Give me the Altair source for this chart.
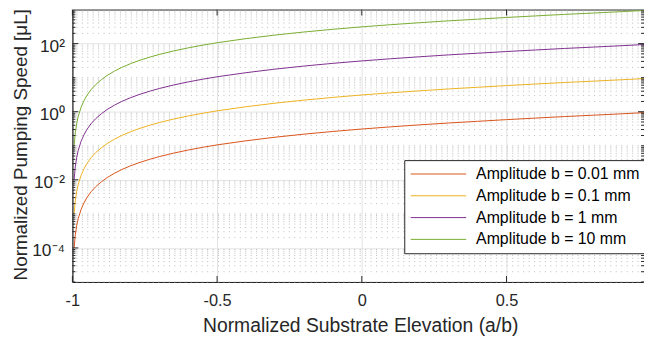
import altair as alt
import pandas as pd

# ---- data ----
x_vals = [-0.994, -0.99, -0.985, -0.98, -0.97, -0.96, -0.95, -0.935, -0.92, -0.9,
          -0.88, -0.855, -0.83, -0.8, -0.77, -0.73, -0.7, -0.65, -0.6, -0.55,
          -0.5, -0.4, -0.3, -0.2, -0.1, 0.0, 0.1, 0.2, 0.3, 0.4,
          0.5, 0.6, 0.7, 0.8, 0.9, 0.975]

amp_001 = [1.0e-4, 2.4e-4, 4.6e-4, 7.2e-4, 1.35e-3, 2.1e-3, 3.0e-3, 4.5e-3, 6.2e-3, 8.7e-3,
           0.0116, 0.0155, 0.0199, 0.0256, 0.0318, 0.0407, 0.048, 0.0609, 0.0749, 0.090,
           0.106, 0.140, 0.178, 0.219, 0.263, 0.31, 0.359, 0.411, 0.466, 0.522,
           0.585, 0.65, 0.72, 0.79, 0.87, 0.94]

amp_01 = [1.0e-3, 2.4e-3, 4.6e-3, 7.2e-3, 0.0135, 0.021, 0.030, 0.045, 0.062, 0.087,
          0.116, 0.155, 0.199, 0.256, 0.318, 0.407, 0.48, 0.609, 0.749, 0.90,
          1.06, 1.40, 1.78, 2.19, 2.63, 3.1, 3.59, 4.11, 4.66, 5.22,
          5.85, 6.5, 7.2, 7.9, 8.7, 9.4]

amp_1 = [0.010, 0.024, 0.046, 0.072, 0.135, 0.21, 0.30, 0.45, 0.62, 0.87,
         1.16, 1.55, 1.99, 2.56, 3.18, 4.07, 4.8, 6.09, 7.49, 9.0,
         10.6, 14.0, 17.8, 21.9, 26.3, 31.0, 35.9, 41.1, 46.6, 52.2,
         58.5, 65.0, 72.0, 79.0, 87.0, 94.0]

amp_10 = [0.10, 0.24, 0.46, 0.72, 1.35, 2.1, 3.0, 4.5, 6.2, 8.7,
          11.6, 15.5, 19.9, 25.6, 31.8, 40.7, 48.0, 60.9, 74.9, 90.0,
          106.0, 140.0, 178.0, 219.0, 263.0, 310.0, 359.0, 411.0, 466.0, 522.0,
          585.0, 650.0, 720.0, 790.0, 870.0, 940.0]

series_names = ["Amplitude b = 0.01 mm", "Amplitude b = 0.1 mm",
                "Amplitude b = 1 mm", "Amplitude b = 10 mm"]
series_colors = ["#D95319", "#EDB120", "#7E2F8E", "#77AC30"]

x_ticks = [-1, -0.5, 0, 0.5]
y_major = [1e-4, 1e-2, 1, 1e2]
y_minor = [m * 10.0 ** k for k in range(-5, 3) for m in range(1, 10)
           if not (m == 1 and k % 2 == 0)]

# ---- tables ----
rows = []
for name, vals in zip(series_names, [amp_001, amp_01, amp_1, amp_10]):
    for xv, yv in zip(x_vals, vals):
        rows.append({"x": xv, "y": yv, "series": name})
df = pd.DataFrame(rows)
minor_df = pd.DataFrame({"v": y_minor})
major_df = pd.DataFrame({"v": y_major})
xt_df = pd.DataFrame({"t": x_ticks})

W, H = 577, 275
FONT = "Liberation Sans"
AX = "#262626"

xscale = alt.Scale(domain=[-1, 0.975], nice=False, zero=False)
yscale = alt.Scale(type="log", domain=[1e-5, 1e3], nice=False)

x_axis = alt.Axis(values=x_ticks, labelExpr="toString(datum.value)",
                  title="Normalized Substrate Elevation (a/b)",
                  titleX=W / 2 + 2, titleY=44, titleBaseline="middle",
                  labelPadding=11, labelFlush=False, labelFontSize=16.5)
y_axis = alt.Axis(values=y_major,
                  labelExpr="'10' + (datum.value > 50 ? '²' : datum.value > 0.5 ? '⁰' : datum.value > 0.005 ? '⁻²' : '⁻⁴')",
                  title="Normalized Pumping Speed [μL]",
                  titleX=-52, titleY=136, titleBaseline="middle", titleFontSize=19,
                  labelPadding=8, labelOffset=3, labelFontSize=17.5)

minor_grid = alt.Chart(minor_df).mark_rule(
    color="#bdbdbd", strokeWidth=1, strokeDash=[1, 4.5]
).encode(y=alt.Y("v:Q", scale=yscale, axis=y_axis))

lines = alt.Chart(df).mark_line(strokeWidth=1, clip=True).encode(
    x=alt.X("x:Q", scale=xscale, axis=x_axis),
    y=alt.Y("y:Q", scale=yscale, axis=y_axis),
    color=alt.Color("series:N",
                    scale=alt.Scale(domain=series_names, range=series_colors),
                    sort=series_names,
                    legend=alt.Legend(orient="none", legendX=335, legendY=152, title=None,
                                      symbolType="M-7,0H7", symbolSize=64,
                                      symbolOffset=20.5, labelOffset=30,
                                      symbolStrokeWidth=1, labelLimit=400,
                                      labelFontSize=16, labelFont=FONT, labelColor="#000000",
                                      strokeColor=AX, fillColor="white",
                                      padding=6, rowPadding=6)),
    order=alt.Order("x:Q"),
)

tick_left_major = alt.Chart(major_df).mark_rule(color=AX, strokeWidth=1).encode(
    y=alt.Y("v:Q", scale=yscale, axis=y_axis), x=alt.value(0), x2=alt.value(6))
tick_right_major = alt.Chart(major_df).mark_rule(color=AX, strokeWidth=1).encode(
    y=alt.Y("v:Q", scale=yscale, axis=y_axis), x=alt.value(W - 6), x2=alt.value(W))
tick_left_minor = alt.Chart(minor_df).mark_rule(color=AX, strokeWidth=1).encode(
    y=alt.Y("v:Q", scale=yscale, axis=y_axis), x=alt.value(0), x2=alt.value(3))
tick_right_minor = alt.Chart(minor_df).mark_rule(color=AX, strokeWidth=1).encode(
    y=alt.Y("v:Q", scale=yscale, axis=y_axis), x=alt.value(W - 3), x2=alt.value(W))
tick_bottom = alt.Chart(xt_df).mark_rule(color=AX, strokeWidth=1).encode(
    x=alt.X("t:Q", scale=xscale, axis=x_axis), y=alt.value(H - 6), y2=alt.value(H))
tick_top = alt.Chart(xt_df).mark_rule(color=AX, strokeWidth=1).encode(
    x=alt.X("t:Q", scale=xscale, axis=x_axis), y=alt.value(0), y2=alt.value(6))

chart = alt.layer(
    minor_grid, lines,
    tick_left_major, tick_right_major, tick_left_minor, tick_right_minor,
    tick_bottom, tick_top,
).properties(
    width=W, height=H,
    autosize=alt.AutoSizeParams(type="none"),
    padding={"left": 65, "top": 0, "right": 0, "bottom": 56},
    background="white",
).configure_view(
    stroke=AX, strokeWidth=1
).configure_axis(
    labelFont=FONT, titleFont=FONT, labelFontSize=16, titleFontSize=19.5,
    titleFontWeight="normal", labelColor=AX, titleColor=AX,
    domainColor=AX, domainWidth=1, ticks=False,
    grid=True, gridColor="#e3e3e3", gridWidth=1,
)

chart.save("out.html", embed_options={"renderer": "svg", "actions": False})
